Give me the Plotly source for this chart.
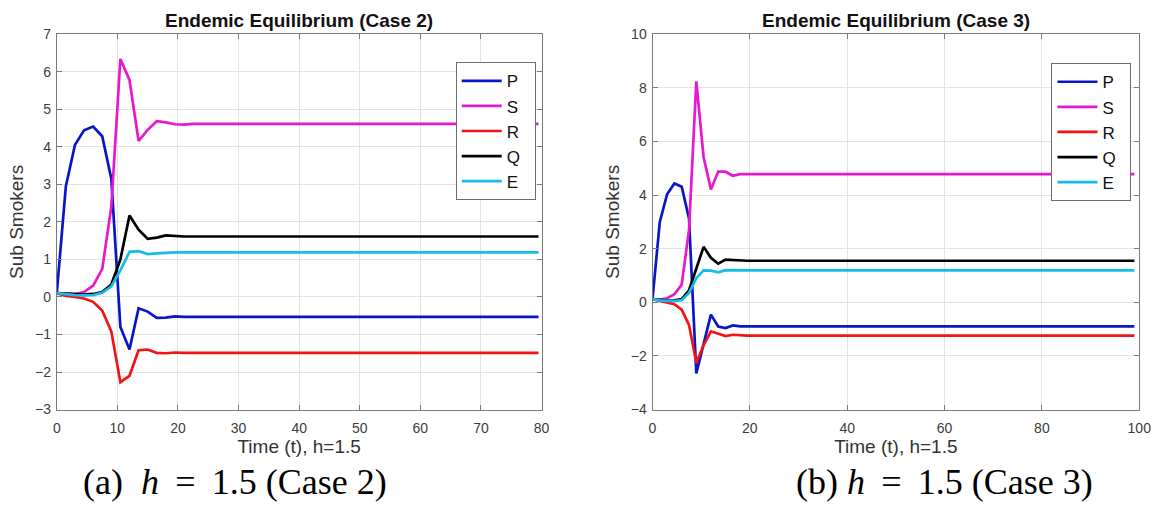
import plotly.graph_objects as go

# ---- Case 2 (h = 1.5) ----
t_case2 = [0, 1.5, 3, 4.5, 6, 7.5, 9, 10.5, 12, 13.5, 15, 16.5, 18, 19.5, 21, 22.5, 24, 79.5]
P_case2 = [0.1, 2.95, 4.05, 4.44, 4.54, 4.28, 3.15, -0.8, -1.4, -0.3, -0.39, -0.56, -0.55, -0.52, -0.53, -0.53, -0.53, -0.53]
S_case2 = [0.1, 0.08, 0.08, 0.13, 0.3, 0.74, 2.4, 6.34, 5.78, 4.16, 4.45, 4.68, 4.65, 4.6, 4.59, 4.61, 4.61, 4.61]
R_case2 = [0.1, 0.03, 0.0, -0.04, -0.13, -0.36, -0.92, -2.27, -2.1, -1.42, -1.4, -1.49, -1.5, -1.48, -1.49, -1.49, -1.49, -1.49]
Q_case2 = [0.1, 0.08, 0.06, 0.06, 0.08, 0.13, 0.33, 1.0, 2.17, 1.79, 1.55, 1.58, 1.64, 1.62, 1.61, 1.61, 1.61, 1.61]
E_case2 = [0.1, 0.07, 0.05, 0.04, 0.05, 0.11, 0.28, 0.71, 1.2, 1.22, 1.14, 1.16, 1.18, 1.19, 1.19, 1.19, 1.19, 1.19]

# ---- Case 3 (h = 1.5) ----
t_case3 = [0, 1.5, 3, 4.5, 6, 7.5, 9, 10.5, 12, 13.5, 15, 16.5, 18, 19.5, 21, 22.5, 24, 99]
P_case3 = [0.12, 3.0, 4.03, 4.43, 4.31, 3.13, -2.65, -1.55, -0.46, -0.9, -0.96, -0.86, -0.9, -0.9, -0.9, -0.9, -0.9, -0.9]
S_case3 = [0.12, 0.1, 0.15, 0.3, 0.66, 2.7, 8.24, 5.41, 4.21, 4.87, 4.87, 4.72, 4.78, 4.78, 4.78, 4.78, 4.78, 4.78]
R_case3 = [0.12, 0.05, 0.0, -0.07, -0.27, -0.84, -2.25, -1.6, -1.08, -1.17, -1.26, -1.21, -1.23, -1.24, -1.24, -1.24, -1.24, -1.24]
Q_case3 = [0.12, 0.08, 0.06, 0.07, 0.12, 0.45, 1.25, 2.07, 1.66, 1.44, 1.59, 1.57, 1.55, 1.55, 1.55, 1.55, 1.55, 1.55]
E_case3 = [0.12, 0.07, 0.05, 0.05, 0.08, 0.35, 0.9, 1.19, 1.18, 1.12, 1.2, 1.19, 1.19, 1.19, 1.19, 1.19, 1.19, 1.19]

names = ["P", "S", "R", "Q", "E"]
colors = ["#0a14c8", "#e619cf", "#f21414", "#000000", "#14bde6"]

W, H = 1169, 513
FONT = "Liberation Sans, Arial, sans-serif"
SERIF = "Liberation Serif, Times New Roman, serif"
NB = "\u00a0"
TH = "\u2009"

fig = go.Figure()

series2 = [P_case2, S_case2, R_case2, Q_case2, E_case2]
series3 = [P_case3, S_case3, R_case3, Q_case3, E_case3]

# legend entries are padded on the right so the boxes get some breathing room
for name, col, ys in zip(names, colors, series2):
    fig.add_trace(go.Scatter(x=t_case2, y=ys, mode="lines", name=name + NB * 2,
                             line=dict(color=col, width=2.7),
                             xaxis="x", yaxis="y", legend="legend"))
for name, col, ys in zip(names, colors, series3):
    fig.add_trace(go.Scatter(x=t_case3, y=ys, mode="lines", name=name + NB * 2,
                             line=dict(color=col, width=2.7),
                             xaxis="x2", yaxis="y2", legend="legend2"))

def px_x(p):
    return p / W

def px_y(p):
    return 1 - p / H

ax_top, ax_bot = 27, 414.5
left_dom = [px_x(53.5), px_x(545)]
right_dom = [px_x(657.5), px_x(1151)]
y_dom = [px_y(ax_bot), px_y(ax_top)]

axis_common = dict(
    showgrid=True, gridcolor="#e3e3e3", gridwidth=1,
    showline=True, linecolor="#7a7a7a", linewidth=1, mirror="ticks",
    ticks="inside", ticklen=5, tickcolor="#7a7a7a",
    zeroline=False,
    tickfont=dict(family=FONT, size=14, color="#3c3c3c"),
)
label_font = dict(family=FONT, size=19, color="#333333")
legend_common = dict(xanchor="left", yanchor="top", bgcolor="white",
                     bordercolor="#6e6e6e", borderwidth=1, itemwidth=40,
                     font=dict(family=FONT, size=17, color="#111111"))

fig.update_layout(
    width=W, height=H,
    margin=dict(l=0, r=0, t=0, b=0),
    paper_bgcolor="white", plot_bgcolor="white",
    xaxis=dict(domain=left_dom, range=[0, 80], dtick=10, anchor="y", ticklabelstandoff=6,
               title=dict(text="Time (t), h=1.5", font=label_font, standoff=2),
               **axis_common),
    yaxis=dict(domain=y_dom, range=[-3, 7], dtick=1, anchor="x", ticklabelstandoff=2,
               title=dict(text="Sub Smokers", font=label_font, standoff=6),
               **axis_common),
    xaxis2=dict(domain=right_dom, range=[0, 100], dtick=20, anchor="y2", ticklabelstandoff=6,
                title=dict(text="Time (t), h=1.5", font=label_font, standoff=2),
                **axis_common),
    yaxis2=dict(domain=y_dom, range=[-4, 10], dtick=2, anchor="x2", ticklabelstandoff=2,
                title=dict(text="Sub Smokers", font=label_font, standoff=6),
                **axis_common),
    legend=dict(x=px_x(458), y=px_y(56), **legend_common),
    legend2=dict(x=px_x(1062), y=px_y(57), **legend_common),
    showlegend=True,
)

EQ = f"{NB}{TH}={NB}{TH}"
annotations = [
    dict(text="<b>Endemic Equilibrium (Case 2)</b>", x=(left_dom[0] + left_dom[1]) / 2, y=px_y(13),
         xref="paper", yref="paper", showarrow=False, xanchor="center", yanchor="middle",
         font=dict(family=FONT, size=19, color="#111111")),
    dict(text="<b>Endemic Equilibrium (Case 3)</b>", x=(right_dom[0] + right_dom[1]) / 2, y=px_y(13),
         xref="paper", yref="paper", showarrow=False, xanchor="center", yanchor="middle",
         font=dict(family=FONT, size=19, color="#111111")),
    dict(text=f"(a){NB}{NB}<i>h</i>{EQ}1.5{NB}(Case 2)", x=px_x(234), y=px_y(489),
         xref="paper", yref="paper", showarrow=False, xanchor="center", yanchor="middle",
         font=dict(family=SERIF, size=36, color="#000000")),
    dict(text=f"(b){NB}<i>h</i>{EQ}1.5{NB}(Case 3)", x=px_x(954), y=px_y(489),
         xref="paper", yref="paper", showarrow=False, xanchor="center", yanchor="middle",
         font=dict(family=SERIF, size=36, color="#000000")),
]
fig.update_layout(annotations=annotations)

fig.write_html("out.html")
